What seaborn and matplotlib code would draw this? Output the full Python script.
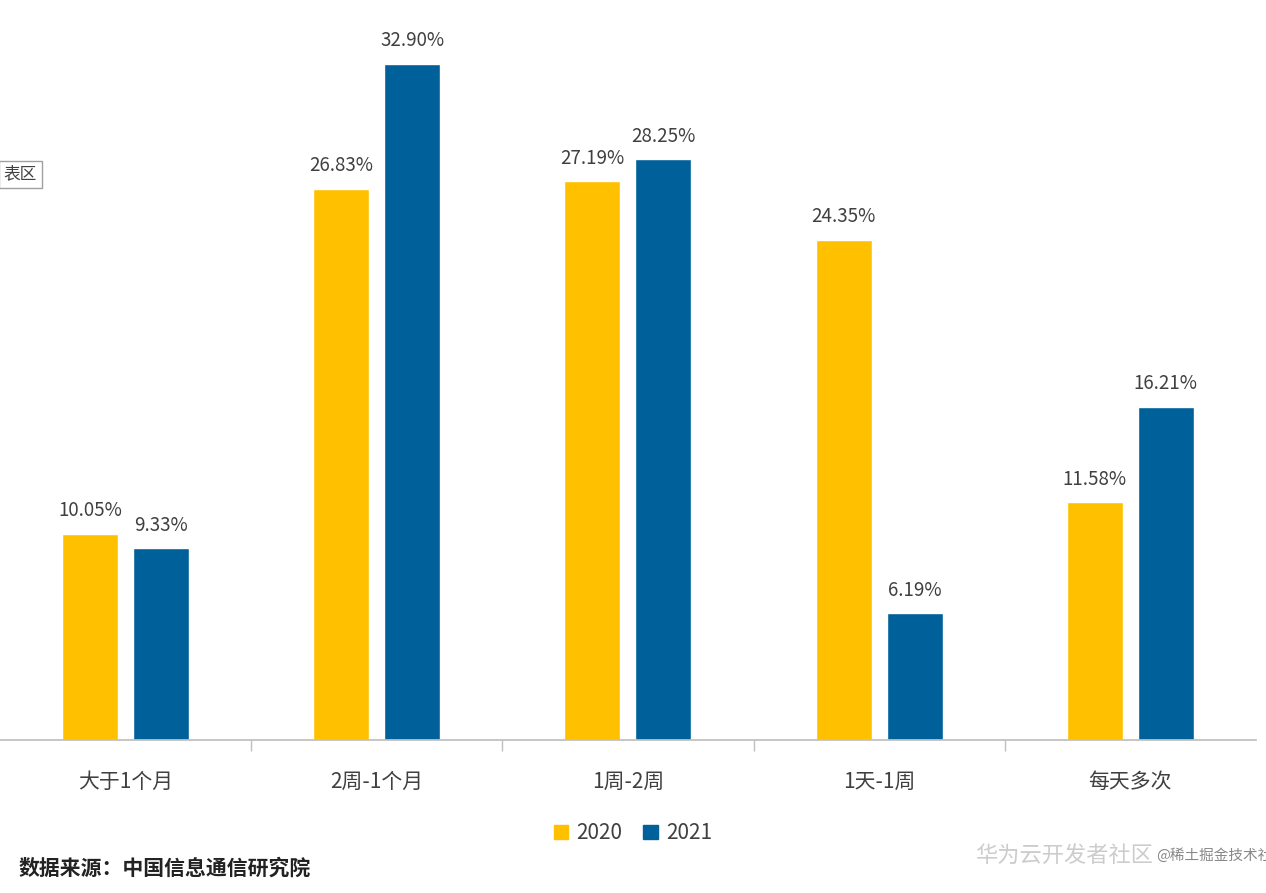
import matplotlib
matplotlib.use("Agg")
import matplotlib.pyplot as plt
import seaborn as sns
import pandas as pd

categories = ["大于1个月", "2周-1个月", "1周-2周", "1天-1周", "每天多次"]
v2020 = [10.05, 26.83, 27.19, 24.35, 11.58]
v2021 = [9.33, 32.90, 28.25, 6.19, 16.21]
years = ["2020", "2021"]

df = pd.DataFrame({
    "cat": categories * 2,
    "val": v2020 + v2021,
    "year": [years[0]] * 5 + [years[1]] * 5,
})

sns.set_theme(style="white")
plt.rcParams['font.family'] = ['Noto Sans CJK SC', 'DejaVu Sans']

fig = plt.figure(figsize=(12.66, 8.93), dpi=100)
ax = fig.add_axes([0.0, 0.171, 0.992, 0.829])
pal = {"2020": "#FFC000", "2021": "#00609A"}
sns.barplot(data=df, x="cat", y="val", hue="year", palette=pal, width=0.565,
            gap=0.21, ax=ax, legend=False, saturation=1)
for c in ax.containers:
    ax.bar_label(c, labels=[f"{v:.2f}%" for v in c.datavalues], padding=9,
                 fontsize=13.5, color="#404040")
ax.set_ylim(0, 36)
ax.set_xlim(-0.5, 4.5)
ax.set_xlabel(""); ax.set_ylabel("")
ax.set_yticks([])
for s in ["top", "right", "left"]:
    ax.spines[s].set_visible(False)
ax.spines["bottom"].set_color("#BFBFBF")
ax.set_xticks(range(5))
ax.set_xticklabels(categories, fontsize=15, color="#404040")
ax.tick_params(axis="x", length=0, pad=22)
ax.set_xticks([0.5, 1.5, 2.5, 3.5], minor=True)
ax.tick_params(axis="x", which="minor", length=8, color="#BFBFBF", bottom=True)

from matplotlib.patches import Patch
handles = [Patch(color=pal[y], label=y) for y in years]
fig.legend(handles=handles, loc="center", bbox_to_anchor=(0.5, 0.067), ncol=2,
           frameon=False, fontsize=15, handlelength=0.7, handleheight=0.7,
           columnspacing=1.0, handletextpad=0.4, labelcolor="#404040")

fig.text(0.015, 0.028, "数据来源：中国信息通信研究院", fontsize=15, fontweight="bold",
         color="#222222", va="center")
fig.text(0.003, 0.805, "表区", fontsize=12, color="#404040", va="center",
         bbox=dict(boxstyle="square,pad=0.3", fc="white", ec="#A0A0A0"))
fig.text(0.77, 0.042, "华为云开发者社区", fontsize=16, color="#CCCCCC", va="center")
fig.text(0.913, 0.042, "@稀土掘金技术社区", fontsize=10.5, color="#888888", va="center")

fig.savefig("out.png", dpi=100)
